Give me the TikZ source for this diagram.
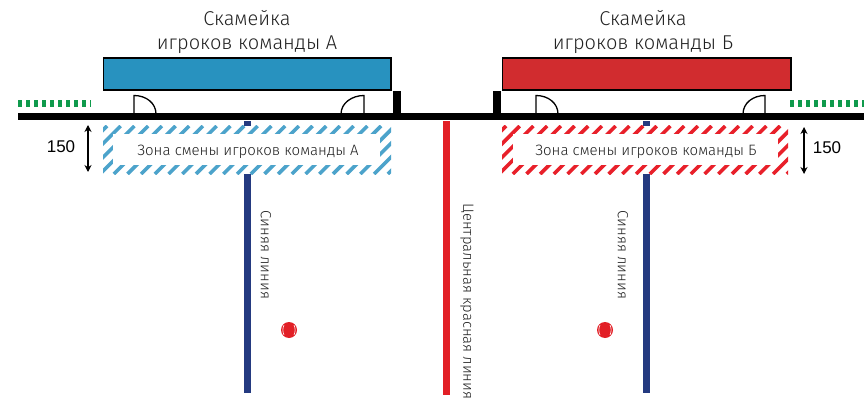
\documentclass[tikz,border=0pt]{standalone}
\usepackage{fontspec}
\usetikzlibrary{arrows.meta}
\setmainfont{Fira Sans Light}
\newfontfamily\numfont{Liberation Sans}
\definecolor{benchblue}{HTML}{2892BF}
\definecolor{benchred}{HTML}{D12C2F}
\definecolor{hatchblue}{HTML}{4CA3CB}
\definecolor{hatchred}{HTML}{E8202A}
\definecolor{linenavy}{HTML}{243A80}
\definecolor{linered}{HTML}{E21F26}
\definecolor{wallgreen}{HTML}{0F9A4C}
\definecolor{textgrey}{HTML}{222222}
\tikzset{
  title/.style={align=center,text=textgrey,font=\fontsize{20}{24}\selectfont},
  zonetext/.style={text=textgrey,font=\fontsize{15}{18}\selectfont},
  sidetext/.style={text=textgrey,rotate=-90,font=\fontsize{14.8}{18}\selectfont},
  size/.style={font=\numfont\fontsize{17}{20}\selectfont},
  bench/.style={draw=black,line width=1.3pt},
  door/.style={draw=black,line width=1.3pt},
  wallgap/.style={wallgreen,line width=7pt,dash pattern=on 4pt off 4pt},
  dimline/.style={{Stealth[length=7pt,width=7pt]}-{Stealth[length=7pt,width=7pt]},line width=1.1pt},
}
\begin{document}
\begin{tikzpicture}[x=1pt,y=-1pt]
  \useasboundingbox (0,0) rectangle (864,401);
  % lines
  \fill[linenavy] (244,121) rectangle (251,393);
  \fill[linenavy] (643,121) rectangle (650,393);
  \fill[linered] (443,121) rectangle (450,395);
  % benches
  \draw[bench,fill=benchblue] (103.5,58) rectangle (391,90);
  \draw[bench,fill=benchred] (502.5,58) rectangle (791,90);
  \node[title] (titleA) at (247,32) {Скамейка\\игроков команды А};
  \node[title] (titleB) at (643,32) {Скамейка\\игроков команды Б};
  % boards
  \fill (18,113) rectangle (864,120);
  \fill (393,91) rectangle (401,116);
  \fill (493,91) rectangle (501,116);
  \draw[wallgap] (18,103.5) -- (91,103.5);
  \draw[wallgap] (790,103.5) -- (864,103.5);
  % doors
  \draw[door] (134,114) -- (134,95.5) .. controls (146,95.5) and (156,103) .. (156,114);
  \draw[door] (364,114) -- (364,95.5) .. controls (352,95.5) and (341,103) .. (341,114);
  \draw[door] (536,114) -- (536,95.5) .. controls (548,95.5) and (558,103) .. (558,114);
  \draw[door] (765,114) -- (765,95.5) .. controls (753,95.5) and (743,103) .. (743,114);
  % zones
  \fill[white] (103,126) rectangle (391,174);
  \fill[white] (502,126) rectangle (788,174);
  \begin{scope}
    \clip (103,126) rectangle (391,174);
    \foreach \i in {0,...,25}
      \draw[hatchblue,line width=3.6pt] (59+13.7*\i,174) -- ++(48,-48);
  \end{scope}
  \begin{scope}
    \clip (502,126) rectangle (788,174);
    \foreach \i in {0,...,25}
      \draw[hatchred,line width=3.6pt] (458+13.7*\i,174) -- ++(48,-48);
  \end{scope}
  \fill[white] (113,134) rectangle (380,165);
  \fill[white] (513,134) rectangle (778,165);
  \node[zonetext] (zoneA) at (248,152) {Зона смены игроков команды А};
  \node[zonetext] (zoneB) at (646,152) {Зона смены игроков команды Б};
  % sizes
  \coordinate (dimAtop) at (88,125);
  \coordinate (dimAbot) at (88,172);
  \coordinate (dimBtop) at (804,127);
  \coordinate (dimBbot) at (804,174);
  \draw[dimline] (dimAtop) -- (dimAbot);
  \draw[dimline] (dimBtop) -- (dimBbot);
  \node[size] (sizeA) at (61,147) {150};
  \node[size] (sizeB) at (827,148) {150};
  % labels
  \node[sidetext] (blueA) at (266,255) {Синяя линия};
  \node[sidetext] (blueB) at (623,255) {Синяя линия};
  \node[sidetext,anchor=west] (centre) at (467,200) {Центральная красная линия};
  % spots
  \foreach \x in {289,605} {
    \fill[linered] (\x,330) circle (8);
    \draw[white,line width=0.6pt] (\x-5,325) .. controls (\x-6.5,328) and (\x-6.5,332) .. (\x-5,335);
    \draw[white,line width=0.6pt] (\x+5,325) .. controls (\x+6.5,328) and (\x+6.5,332) .. (\x+5,335);
  }
\end{tikzpicture}
\end{document}
